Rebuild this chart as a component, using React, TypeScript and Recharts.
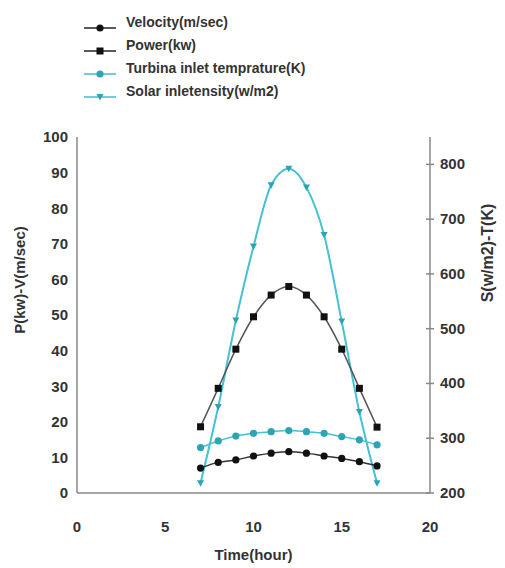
import React from 'react';
import { LineChart, Line, XAxis, YAxis } from 'recharts';

const hours = [7, 8, 9, 10, 11, 12, 13, 14, 15, 16, 17];
const velocity = [7.0, 8.6, 9.3, 10.4, 11.2, 11.6, 11.2, 10.4, 9.7, 8.8, 7.6];
const power = [18.6, 29.4, 40.4, 49.5, 55.6, 58, 55.6, 49.5, 40.4, 29.4, 18.5];
const temperature = [283, 295, 304, 309, 312, 314, 312, 309, 303, 297, 288];
const solar = [218, 357, 515, 650, 762, 792, 758, 671, 513, 348, 218];

const xTicks = [0, 5, 10, 15, 20];
const leftTicks = [0, 10, 20, 30, 40, 50, 60, 70, 80, 90, 100];
const rightTicks = [200, 300, 400, 500, 600, 700, 800];

const legendItems = [
  { name: 'Velocity(m/sec)', color: '#222', marker: 'circle' },
  { name: 'Power(kw)', color: '#222', marker: 'square' },
  { name: 'Turbina inlet temprature(K)', color: '#3fbdd0', marker: 'circle' },
  { name: 'Solar inletensity(w/m2)', color: '#3fbdd0', marker: 'triangle' },
];

const rows = hours.map((h, i) => ({
  hour: h,
  velocity: velocity[i],
  power: power[i],
  temperature: temperature[i],
  solar: solar[i],
}));

const FONT = '"Liberation Sans", Arial, sans-serif';
const TEXT = '#333';
const AXIS = '#888';
const CYAN = '#45c1d3';
const CYAN_DOT = '#2ea3b6';

const marker = (kind: string, cx: number, cy: number, fill: string, key?: any) => {
  if (kind === 'square') {
    return <rect key={key} x={cx - 3.5} y={cy - 3.5} width={7} height={7} fill={fill} />;
  }
  if (kind === 'triangle') {
    return <path key={key} d={`M${cx - 3.5},${cy - 3} L${cx + 3.5},${cy - 3} L${cx},${cy + 3.5} Z`} fill={fill} />;
  }
  return <circle key={key} cx={cx} cy={cy} r={3.6} fill={fill} />;
};

const RightTick = (props: any) => {
  const { x, y, payload } = props;
  return (
    <g>
      <line x1={x - 14} x2={x - 6} y1={y} y2={y} stroke={AXIS} strokeWidth={1.5} />
      <text x={x} y={y} dy={5} fill={TEXT} fontSize={15} fontWeight="bold" fontFamily={FONT}>
        {payload.value}
      </text>
    </g>
  );
};

const Legend4 = () => (
  <div style={{ position: 'absolute', left: 80, top: 12, fontFamily: FONT }}>
    {legendItems.map((it) => (
      <div key={it.name} style={{ height: 23, position: 'relative', width: 320 }}>
        <svg width={36} height={20} style={{ position: 'absolute', left: 2, top: 6 }}>
          <line x1={2} x2={34} y1={10} y2={10} stroke={it.color} strokeWidth={1.5} />
          {marker(it.marker, 18, 10, it.color === '#222' ? '#111' : CYAN_DOT)}
        </svg>
        <span style={{ position: 'absolute', left: 46, top: 2, fontSize: 14, fontWeight: 'bold', color: TEXT, whiteSpace: 'nowrap' }}>
          {it.name}
        </span>
      </div>
    ))}
  </div>
);

export default function App() {
  return (
    <div style={{ position: 'absolute', left: 0, top: 0, width: 505, height: 568, background: '#fff' }}>
      <Legend4 />
      <LineChart width={505} height={568} data={rows} margin={{ top: 137, right: 35, bottom: 45, left: 37 }}>
        <XAxis
          dataKey="hour"
          type="number"
          domain={[0, 20]}
          ticks={xTicks}
          height={30}
          tickLine={false}
          tickSize={0}
          tickMargin={28}
          axisLine={{ stroke: AXIS, strokeWidth: 1.5 }}
          tick={{ fill: TEXT, fontSize: 15, fontWeight: 'bold', fontFamily: FONT }}
          label={{
            content: (p: any) => {
              const vb = p.viewBox;
              return (
                <text x={vb.x + vb.width / 2} y={vb.y + 67} textAnchor="middle" fill={TEXT} fontSize={15} fontWeight="bold" fontFamily={FONT}>
                  Time(hour)
                </text>
              );
            },
          }}
        />
        <YAxis
          yAxisId="left"
          domain={[0, 100]}
          ticks={leftTicks}
          width={40}
          tickLine={false}
          tickSize={0}
          tickMargin={9}
          axisLine={{ stroke: AXIS, strokeWidth: 1.5 }}
          tick={{ fill: TEXT, fontSize: 15, fontWeight: 'bold', fontFamily: FONT }}
          label={{
            content: (p: any) => {
              const vb = p.viewBox;
              const cx = vb.x - 12;
              const cy = vb.y + vb.height / 2 - 35;
              return (
                <text x={cx} y={cy} transform={`rotate(-90 ${cx} ${cy})`} textAnchor="middle" fill={TEXT} fontSize={15} fontWeight="bold" fontFamily={FONT}>
                  P(kw)-V(m/sec)
                </text>
              );
            },
          }}
        />
        <YAxis
          yAxisId="right"
          orientation="right"
          domain={[200, 850]}
          ticks={rightTicks}
          width={40}
          tickLine={false}
          tickSize={0}
          tickMargin={10}
          axisLine={{ stroke: AXIS, strokeWidth: 1.5 }}
          tick={<RightTick />}
          label={{
            content: (p: any) => {
              const vb = p.viewBox;
              const cx = vb.x + vb.width + 23;
              const cy = vb.y + vb.height / 2 - 62;
              return (
                <text x={cx} y={cy} transform={`rotate(-90 ${cx} ${cy})`} textAnchor="middle" fill={TEXT} fontSize={16} fontWeight="bold" fontFamily={FONT}>
                  S(w/m2)-T(K)
                </text>
              );
            },
          }}
        />
        <Line
          yAxisId="right"
          dataKey="solar"
          type="monotone"
          stroke={CYAN}
          strokeWidth={2}
          isAnimationActive={false}
          dot={(p: any) => marker('triangle', p.cx, p.cy, CYAN_DOT, p.index)}
        />
        <Line
          yAxisId="right"
          dataKey="temperature"
          type="monotone"
          stroke={CYAN}
          strokeWidth={1.5}
          isAnimationActive={false}
          dot={(p: any) => marker('circle', p.cx, p.cy, CYAN_DOT, p.index)}
        />
        <Line
          yAxisId="left"
          dataKey="power"
          type="monotone"
          stroke="#555"
          strokeWidth={1.5}
          isAnimationActive={false}
          dot={(p: any) => marker('square', p.cx, p.cy, '#111', p.index)}
        />
        <Line
          yAxisId="left"
          dataKey="velocity"
          type="monotone"
          stroke="#333"
          strokeWidth={1.5}
          isAnimationActive={false}
          dot={(p: any) => marker('circle', p.cx, p.cy, '#111', p.index)}
        />
      </LineChart>
    </div>
  );
}
